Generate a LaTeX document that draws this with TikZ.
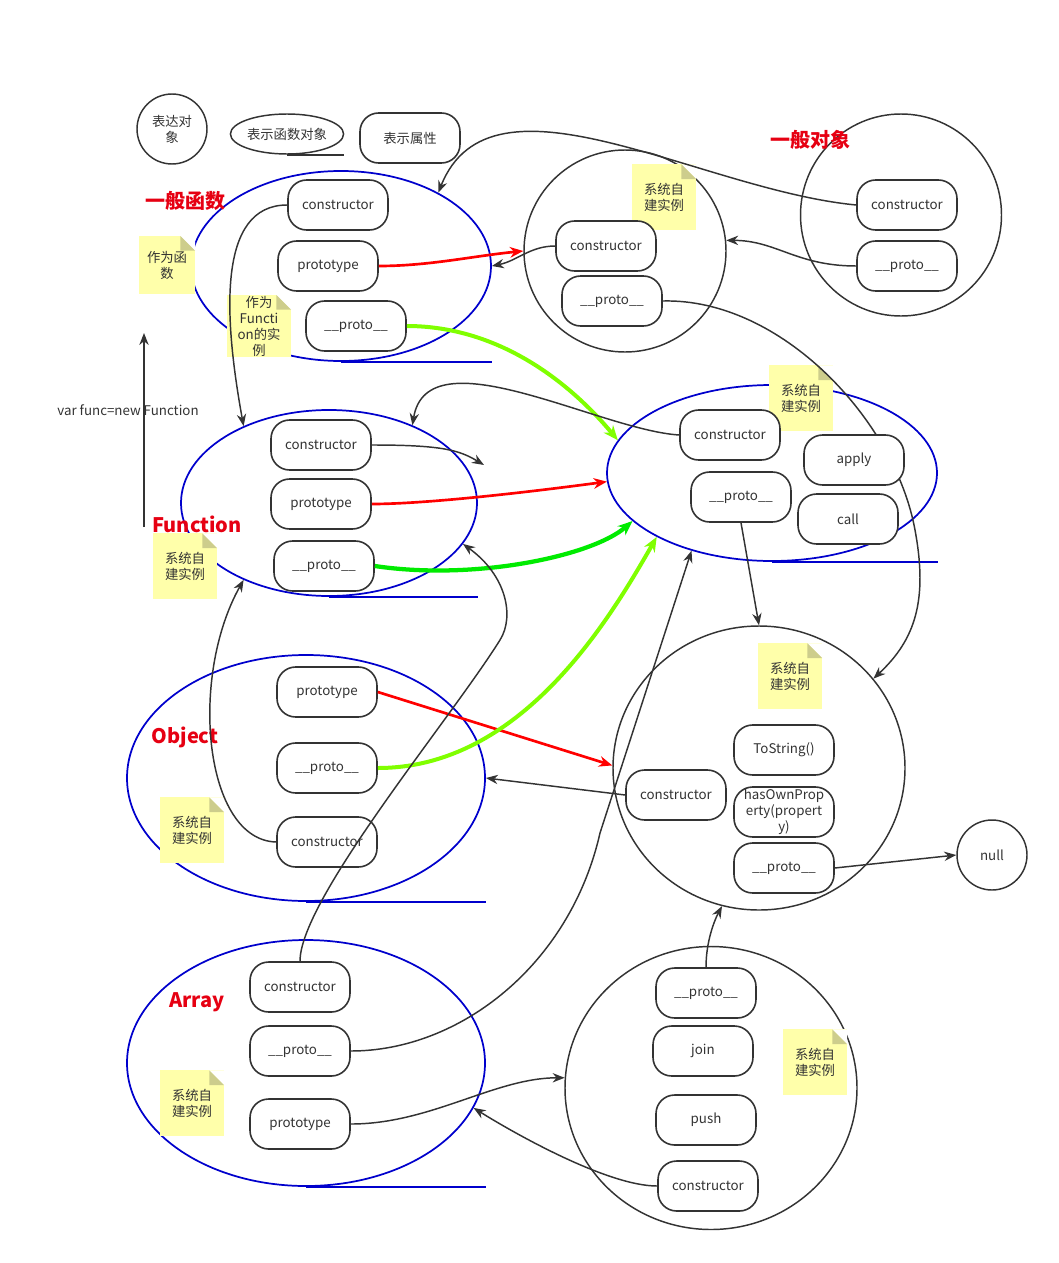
\documentclass[tikz,border=0pt]{standalone}
\usepackage{fontspec}
\setmainfont{Noto Sans CJK SC}
\usetikzlibrary{shapes.geometric,arrows.meta}
\definecolor{azulgrupo}{RGB}{0,0,204}
\definecolor{rojoflecha}{RGB}{255,0,0}
\definecolor{rojotitulo}{RGB}{230,0,18}
\definecolor{lima}{RGB}{128,255,0}
\definecolor{verde}{RGB}{0,235,0}
\definecolor{notafondo}{RGB}{255,255,170}
\definecolor{notapliegue}{RGB}{205,205,140}
\definecolor{trazo}{RGB}{51,51,51}
\pgfdeclarelayer{fondo}
\pgfsetlayers{fondo,main}
\newcommand{\notatikz}[4][]{
  \node[nota,#1] (#2) at (#3) {#4};
}

\begin{document}
\begin{tikzpicture}[x=0.75pt, y=-0.75pt,
  every node/.style={font=\fontsize{10}{12}\selectfont, text=trazo},
  prop/.style={draw=trazo, line width=1.2pt, fill=white, rounded corners=14pt,
    minimum width=75pt, minimum height=37.5pt, inner sep=0pt, align=center},
  circ/.style={draw=trazo, line width=1.1pt, ellipse, inner sep=0pt, align=center},
  grupo/.style={draw=azulgrupo, line width=1.3pt, ellipse, inner sep=0pt},
  linea grupo/.style={draw=azulgrupo, line width=1.3pt},
  nota/.style={fill=notafondo, align=center, inner sep=0pt,
    minimum width=48pt, minimum height=49pt,
    path picture={
      \fill[white] ([xshift=-11pt]path picture bounding box.north east) -- (path picture bounding box.north east)
        -- ([yshift=-11pt]path picture bounding box.north east) -- cycle;
      \fill[notapliegue] ([xshift=-11pt]path picture bounding box.north east) -- ([yshift=-11pt]path picture bounding box.north east)
        -- ([xshift=-11pt,yshift=-11pt]path picture bounding box.north east) -- cycle;
    }},
  titulo/.style={font=\fontsize{15}{18}\selectfont\bfseries, text=rojotitulo},
  flecha/.style={draw=trazo, line width=1.1pt, -{Stealth[length=9pt,width=7pt]}},
  flecha roja/.style={draw=rojoflecha, line width=2pt, -{Stealth[length=10pt,width=8pt]}},
  flecha lima/.style={draw=lima, line width=3pt, -{Stealth[length=11pt,width=9pt]}},
  flecha verde/.style={draw=verde, line width=3.2pt, -{Stealth[length=11pt,width=9pt]}},
]
\useasboundingbox (0,0) rectangle (1059,1263);

\begin{pgfonlayer}{fondo} % Grupos y notas {{{
% leyenda
\node[circ, minimum size=52.5pt] (lgObj) at (172,129) {表达对\\象};
\node[circ, minimum width=84pt, minimum height=30pt] (lgFn) at (287,134) {表示函数对象};
\draw[draw=trazo, line width=1.3pt] (lgFn.south) -- (lgFn.south -| lgFn.east);
% grupos
\node[grupo, minimum width=225pt, minimum height=142.5pt] (fnGen) at (341,266) {};
\node[circ, minimum width=151.5pt, minimum height=151.5pt] (fnProtoC) at (625,251) {};
\node[circ, minimum width=150.75pt, minimum height=151.5pt] (objGen) at (901,215) {};
\node[grupo, minimum width=222pt, minimum height=139.5pt] (Func) at (329,503) {};
\node[grupo, minimum width=247.5pt, minimum height=132pt] (FuncProto) at (772,473) {};
\node[grupo, minimum width=268.5pt, minimum height=184.5pt] (Obj) at (306,778) {};
\node[circ, minimum width=219pt, minimum height=213pt] (ObjProto) at (759,768) {};
\node[circ, minimum size=52.5pt] (nulo) at (992,855) {null};
\node[grupo, minimum width=268.5pt, minimum height=184.5pt] (Arr) at (306,1063) {};
\node[circ, minimum width=219pt, minimum height=212.25pt] (ArrProto) at (711,1088) {};
\foreach \g in {fnGen,Func,FuncProto,Obj,Arr} {
  \draw[linea grupo] (\g.south) -- (\g.south -| \g.east);
}
% notas
\notatikz[minimum width=42pt, minimum height=43.5pt]{ntFn}{167,265}{作为函\\数}
\notatikz[minimum height=46.5pt]{ntFnInst}{259,326}{作为\\Functi\\on的实\\例}
\notatikz{ntFpc}{664,197}{系统自\\建实例}
\notatikz{ntFunc}{185,566}{系统自\\建实例}
\notatikz{ntFp}{801,398}{系统自\\建实例}
\notatikz{ntObj}{192,830}{系统自\\建实例}
\notatikz{ntOp}{790,676}{系统自\\建实例}
\notatikz{ntArr}{192,1103}{系统自\\建实例}
\notatikz{ntAp}{815,1062}{系统自\\建实例}
% titulos
\node[titulo] (tFn) at (185,201) {一般函数};
\node[titulo] (tObjGen) at (810,140) {一般对象};
\node[titulo] (tFunc) at (197,524) {Function};
\node[titulo] (tObj) at (185,737) {Object};
\node[titulo] (tArr) at (197,1002) {Array};
\end{pgfonlayer} % }}}

% Propiedades {{{
\node[prop] (lgAttr) at (410,138) {表示属性};
\node[prop] (fnCons) at (338,205) {constructor};
\node[prop] (fnProt) at (328,266) {prototype};
\node[prop] (fnPro) at (356,326) {\_\_proto\_\_};
\node[prop] (fpcCons) at (606,246) {constructor};
\node[prop] (fpcPro) at (612,301) {\_\_proto\_\_};
\node[prop] (ogCons) at (907,205) {constructor};
\node[prop] (ogPro) at (907,266) {\_\_proto\_\_};
\node[prop] (FuncCons) at (321,445) {constructor};
\node[prop] (FuncProt) at (321,504) {prototype};
\node[prop] (FuncPro) at (324,566) {\_\_proto\_\_};
\node[prop] (fpCons) at (730,435) {constructor};
\node[prop] (fpPro) at (741,497) {\_\_proto\_\_};
\node[prop] (fpApply) at (854,460) {apply};
\node[prop] (fpCall) at (848,519) {call};
\node[prop] (ObjProt) at (327,692) {prototype};
\node[prop] (ObjPro) at (327,768) {\_\_proto\_\_};
\node[prop] (ObjCons) at (327,842) {constructor};
\node[prop] (opToStr) at (784,750) {ToString()};
\node[prop] (opHas) at (784,812) {hasOwnProp\\erty(propert\\y)};
\node[prop] (opCons) at (676,795) {constructor};
\node[prop] (opPro) at (784,868) {\_\_proto\_\_};
\node[prop] (ArrCons) at (300,987) {constructor};
\node[prop] (ArrPro) at (300,1051) {\_\_proto\_\_};
\node[prop] (ArrProt) at (300,1124) {prototype};
\node[prop] (apPro) at (706,993) {\_\_proto\_\_};
\node[prop] (apJoin) at (703,1051) {join};
\node[prop] (apPush) at (706,1120) {push};
\node[prop] (apCons) at (708,1186) {constructor};
% }}}

\node (varFunc) at (128,410) {var func=new Function};
\coordinate (vArriba) at (144,333);
\coordinate (vAbajo) at (144,527);
\draw[flecha] (vAbajo) -- (vArriba);

% Flechas {{{
\coordinate (paso1) at (915,530);
\coordinate (paso2) at (500,640);
\coordinate (paso3) at (600,833);
\coordinate (fcPunta) at (484,465);
\begin{pgfonlayer}{fondo}
\draw[flecha] (fpcPro.east) .. controls +(118,-3) and +(-20,-110) .. (paso1)
  .. controls +(13,70) and +(42,-39) .. (ObjProto.38);
\end{pgfonlayer}
\draw[flecha] (fnCons.west) .. controls +(-70,0) and +(-20,-110) .. (Func.138);
\draw[flecha roja] (fnProt.east) .. controls +(50,0) and +(-50,5) .. (fnProtoC.180);
\draw[flecha] (fpcCons.west) .. controls +(-25,0) and +(25,-5) .. (fnGen.0);
\draw[flecha lima] (fnPro.east) .. controls +(90,0) and +(-50,-60) .. (FuncProto.168);
\draw[flecha] (ogCons.west) .. controls +(-157,-15) and +(53,-133) .. (fnGen.37);
\draw[flecha] (ogPro.west) .. controls +(-60,0) and +(50,0) .. (fnProtoC.6);
\draw[flecha] (fpCons.west) .. controls +(-80,-5) and +(15,-92) .. (Func.43);
\draw[flecha] (FuncCons.east) .. controls +(70,0) and +(-25,-15) .. (fcPunta);
\draw[flecha roja] (FuncProt.east) .. controls +(60,0) and +(-60,8) .. (FuncProto.183);
\draw[flecha verde] (FuncPro.east) .. controls +(100,15) and +(-40,35) .. (FuncProto.199);
\draw[flecha] (ObjCons.west) .. controls +(-72,-2) and +(-55,98) .. (Func.222);
\draw[flecha roja] (ObjProt.east) -- (ObjProto.179);
\draw[flecha lima] (ObjPro.east) .. controls +(143,0) and +(-48,84) .. (FuncProto.209);
\draw[flecha] (opCons.west) -- (Obj.0);
\draw[flecha] (fpPro.south) -- (ObjProto.north);
\draw[flecha] (opPro.east) -- (nulo.west);
\draw[flecha] (ArrCons.north) .. controls +(0,-62) and +(-50,80) .. (paso2)
  .. controls +(15,-24) and +(43,31) .. (Func.343);
\draw[flecha] (ArrPro.east) .. controls +(109,0) and +(-30,132) .. (paso3) -- (FuncProto.224);
\draw[flecha] (ArrProt.east) .. controls +(80,0) and +(-70,0) .. (ArrProto.176);
\draw[flecha] (apCons.west) .. controls +(-50,0) and +(40,25) .. (Arr.345);
\draw[flecha] (apPro.north) .. controls +(0,-25) and +(-8,15) .. (ObjProto.255);
% }}}
\end{tikzpicture}
\end{document}
